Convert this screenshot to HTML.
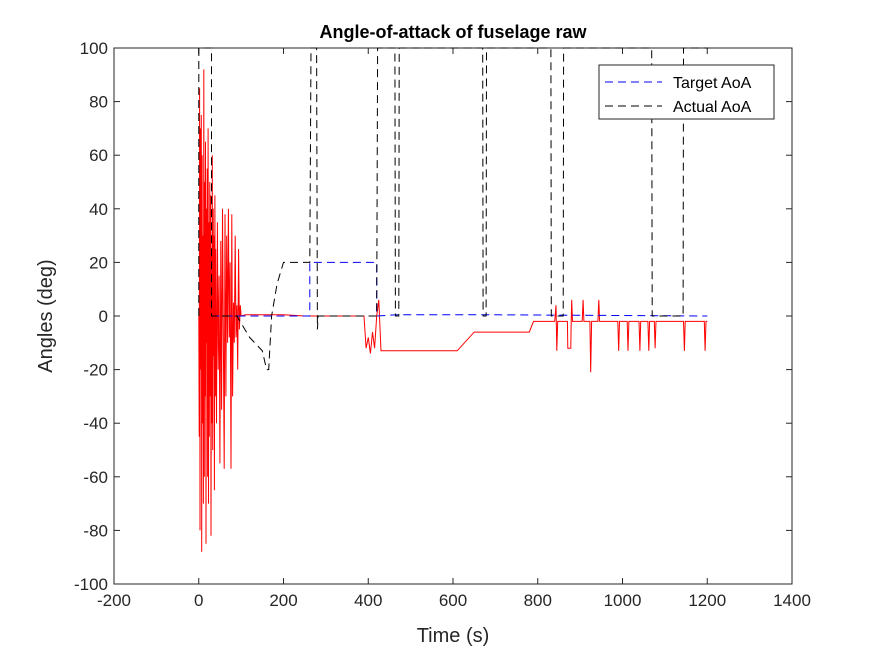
<!DOCTYPE html>
<html><head><meta charset="utf-8"><style>
body{margin:0;background:#fff;}
svg{display:block;font-family:"Liberation Sans",sans-serif;}
</style></head><body>
<svg id="chart" width="875" height="656">
<rect width="875" height="656" fill="#fff"/>
<g id="plot"></g>
</svg>
<script>
const xTicks=[-200,0,200,400,600,800,1000,1200,1400];
const yTicks=[-100,-80,-60,-40,-20,0,20,40,60,80,100];
const targetT=[30,262,262,420,420,470,670,1200];
const targetV=[0,0,20,20,0,0.5,0.5,0];
const actualT=[0,0,30,30,90,120,150,160,165,172,185,200,262,265,278,280,282,420,422,463,464,472,473,670,671,678,679,831,832,860,861,1069,1070,1143,1144,1203];
const actualV=[0,100,100,0,0,-8,-13,-20,-20,0,12,20,20,100,100,-5,0,0,100,100,0,0,100,100,0,0,100,100,0,0,100,100,0,0,100,100];
const redT=[0,1,2,3,4,5,6,7,8,9,10,11,12,13,14,15,16,17,18,19,20,21,22,23,24,25,26,27,28,29,30,31,32,33,34,35,36,37,38,39,40,42,44,46,48,50,52,54,56,58,60,62,64,66,68,70,72,74,76,78,80,82,84,86,88,90,92,94,96,98,100,110,150,200,250,300,350,390,395,400,405,410,415,420,425,430,435,440,500,610,650,780,790,840,843,845,847,870,871,878,879,880,882,905,907,909,923,925,927,942,944,946,989,991,993,1011,1013,1015,1039,1041,1043,1060,1062,1064,1075,1077,1079,1144,1146,1148,1193,1195,1197,1200];
const redV=[0,-45,85,-80,70,-20,75,-88,60,-40,30,-70,92,-60,50,-30,65,-85,40,-10,55,-60,70,-70,35,-45,50,-30,45,-82,25,-40,60,-50,40,-15,30,-65,45,-30,25,-40,35,-20,15,-55,28,-35,40,-5,-57,38,-30,30,-10,40,-8,20,-57,38,-30,5,-10,30,-8,4,-20,25,-5,4,0,0.5,0.5,0.5,0,0,0,0,-12,-8,-14,-6,-12,0,6,-13,-13,-13,-13,-13,-6,-6,-2,-2,4,-13,-2,-2,-12,-12,-2,6,-2,-2,6,-2,-2,-21,-2,-2,6,-2,-2,-13,-2,-2,-13,-2,-2,-13,-2,-2,-13,-2,-2,-12,-2,-2,-13,-2,-2,-13,-2,-2];
const L=114,R=792,T=48,B=584;
const xs=t=>L+(t+200)/1600*(R-L);
const ys=v=>B-(v+100)/200*(B-T);
const NS="http://www.w3.org/2000/svg";
const g=document.getElementById('plot');
function mk(tag,attrs){const e=document.createElementNS(NS,tag);for(const k in attrs)e.setAttribute(k,attrs[k]);g.appendChild(e);return e;}
function pts(ts,vs){return ts.map((t,i)=>xs(t).toFixed(1)+','+ys(vs[i]).toFixed(1)).join(' ');}
const box=mk('rect',{x:L,y:T,width:R-L,height:B-T,fill:'none',stroke:'#262626','stroke-width':1});


xTicks.forEach(t=>{
  const x=xs(t);
  mk('line',{x1:x,y1:B,x2:x,y2:B-6,stroke:'#262626'});
  mk('line',{x1:x,y1:T,x2:x,y2:T+6,stroke:'#262626'});
  const tx=mk('text',{x:x,y:B+22,'text-anchor':'middle','font-size':17,fill:'#262626'});
  tx.textContent=t;
  
  
});
yTicks.forEach(v=>{
  const y=ys(v);
  mk('line',{x1:L,y1:y,x2:L+6,y2:y,stroke:'#262626'});
  mk('line',{x1:R,y1:y,x2:R-6,y2:y,stroke:'#262626'});
  const tx=mk('text',{x:L-6,y:y+6,'text-anchor':'end','font-size':17,fill:'#262626'});
  tx.textContent=v;
  
  
});
const red=mk('polyline',{points:pts(redT,redV),fill:'none',stroke:'#ff0000','stroke-width':1});


const tgt=mk('polyline',{points:pts(targetT,targetV),fill:'none',stroke:'#0000ff','stroke-width':1,'stroke-dasharray':'8,5'});


const act=mk('polyline',{points:pts(actualT,actualV),fill:'none',stroke:'#000','stroke-width':1,'stroke-dasharray':'8,5'});


const title=mk('text',{x:(L+R)/2,y:38,'text-anchor':'middle','font-size':18,'font-weight':'bold',fill:'#000'});
title.textContent='Angle-of-attack of fuselage raw';


const xl=mk('text',{x:(L+R)/2,y:642,'text-anchor':'middle','font-size':20,fill:'#262626'});
xl.textContent='Time (s)';


const yl=mk('text',{x:0,y:0,'text-anchor':'middle','font-size':20,fill:'#262626',transform:'translate(52,316) rotate(-90)'});
yl.textContent='Angles (deg)';


const lg=mk('rect',{x:599,y:65,width:175,height:54,fill:'#fff',stroke:'#262626'});


[['Target AoA','#0000ff',82],['Actual AoA','#000',106]].forEach(([n,c,y])=>{
  const ln=mk('line',{x1:605,y1:y,x2:662,y2:y,stroke:c,'stroke-dasharray':'8,5'});
  
  
  const tx=mk('text',{x:673,y:y+6,'font-size':16,fill:'#000'});
  tx.textContent=n;
  
  
});
</script>
</body></html>
